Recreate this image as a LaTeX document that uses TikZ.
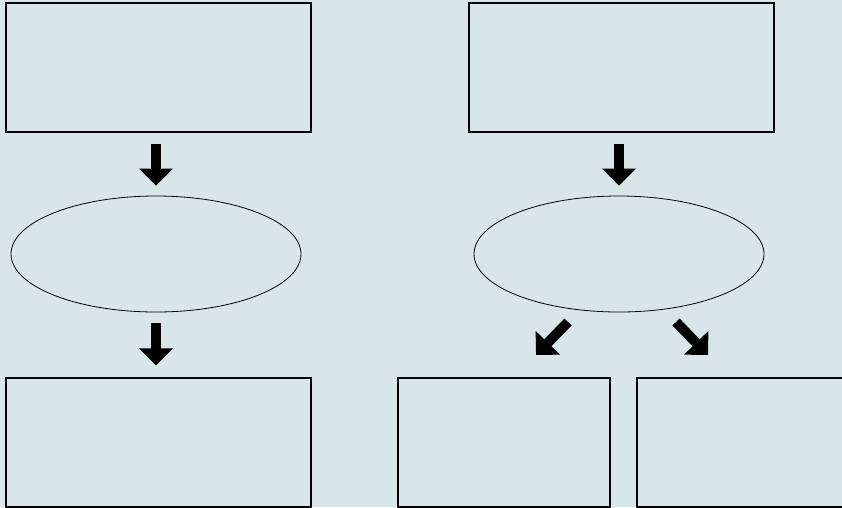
\documentclass[tikz,border=0pt]{standalone}
\usetikzlibrary{arrows.meta,shapes.geometric}
\definecolor{bg}{HTML}{D8E6E9}
\begin{document}
\begin{tikzpicture}[x=1pt,y=-1pt,
  box/.style={draw=black, line width=1.1pt, inner sep=0pt},
  oval/.style={ellipse, draw=black, line width=0.8pt, inner sep=0pt, minimum width=290pt, minimum height=116pt},
  blk/.style={line width=10pt, -{Triangle[width=33pt,length=17pt]}}]
\fill[bg] (0,0) rectangle (842,507);
\useasboundingbox (0,0) rectangle (842,507);
% left column
\node[box, minimum width=305pt, minimum height=129pt] (b1) at (158.5,67.5) {};
\node[oval] (e1) at (156,254) {};
\node[box, minimum width=305pt, minimum height=129pt] (b2) at (158.5,442.5) {};
% right column
\node[box, minimum width=305pt, minimum height=129pt] (b3) at (621.5,67.5) {};
\node[oval] (e2) at (619,254) {};
\node[box, minimum width=212pt, minimum height=129pt] (b4) at (504,442.5) {};
\node[box, minimum width=212pt, minimum height=129pt] (b5) at (743,442.5) {};
% arrows
\draw[blk, shorten <=11pt, shorten >=10pt] (e1.north |- b1.south) -- (e1.north);
\draw[blk, shorten <=11pt, shorten >=12pt] (e1.south) -- (e1.south |- b2.north);
\draw[blk, shorten <=11pt, shorten >=10pt] (e2.north |- b3.south) -- (e2.north);
\coordinate (d1s) at (568,322);
\coordinate (d1e) at (536,355);
\coordinate (d2s) at (676,322);
\coordinate (d2e) at (708,355);
\draw[blk] (d1s) -- (d1e);
\draw[blk] (d2s) -- (d2e);
\end{tikzpicture}
\end{document}
